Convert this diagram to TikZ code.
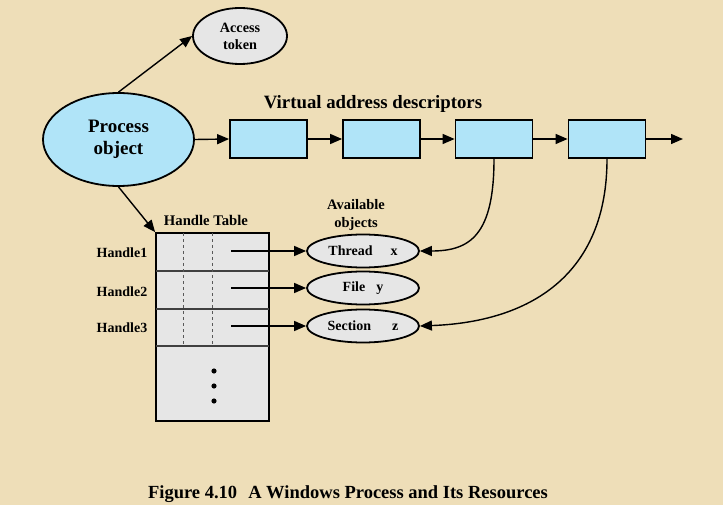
\documentclass[tikz,border=0pt]{standalone}
\usepackage{fontspec}
\setmainfont{Liberation Serif}
\usetikzlibrary{shapes.geometric,arrows.meta}
\definecolor{parch}{RGB}{238,222,184}
\definecolor{lblue}{RGB}{176,228,248}
\definecolor{lgray}{RGB}{230,230,230}
\tikzset{
  arr/.style={draw=black,line width=1.4pt,-{Triangle[length=12pt,width=10pt]}},
  vad/.style={draw=black,line width=1.8pt,fill=lblue,minimum width=77pt,minimum height=38pt,inner sep=0pt},
  obj/.style={ellipse,draw=black,line width=1.8pt,fill=lgray,minimum width=112pt,minimum height=33pt,inner sep=0pt,font=\fontsize{14}{16}\selectfont\bfseries},
  lbl/.style={font=\fontsize{14}{18}\selectfont\bfseries,inner sep=0pt,align=center}
}
\begin{document}
\begin{tikzpicture}[x=1pt,y=-1pt]
\fill[parch] (0,0) rectangle (723,505);
\useasboundingbox (0,0) rectangle (723,505);
% top ellipses
\node[ellipse,draw,line width=1.8pt,fill=lgray,minimum width=94pt,minimum height=56pt,inner sep=0pt,align=center,font=\fontsize{14.2}{17}\selectfont\bfseries] (tok) at (240,36) {Access\\token};
\node[ellipse,draw,line width=1.8pt,fill=lblue,minimum width=151pt,minimum height=93pt,inner sep=0pt,align=center,font=\fontsize{19}{22}\selectfont\bfseries] (proc) at (118.5,139.5) {Process\\object};
% VAD chain
\node[vad] (v1) at (268.5,139) {};
\node[vad] (v2) at (381.5,139) {};
\node[vad] (v3) at (494,139) {};
\node[vad] (v4) at (607,139) {};
\coordinate (vend) at (683,139);
\node[font=\fontsize{18.8}{20}\selectfont\bfseries,inner sep=0pt] (vadl) at (373,104) {Virtual address descriptors};
\draw[arr] (proc.north) -- (tok.west);
\draw[arr] (proc.east) -- (v1.west);
\draw[arr] (v1.east) -- (v2.west);
\draw[arr] (v2.east) -- (v3.west);
\draw[arr] (v3.east) -- (v4.west);
\draw[arr] (v4.east) -- (vend);
% handle table
\node[draw,line width=1.8pt,fill=lgray,minimum width=113pt,minimum height=188pt,inner sep=0pt] (ht) at (212.5,327) {};
\draw[line width=1.2pt,draw=black!75] (156,271) -- (269,271) (156,309) -- (269,309) (156,346) -- (269,346);
\draw[dashed,line width=1pt,draw=black!65] (183,233) -- (183,346) (212,233) -- (212,346);
\foreach \yy in {371,386,401} \fill (214,\yy) circle (2.6pt);
\node[font=\fontsize{14.7}{18}\selectfont\bfseries,inner sep=0pt] (htl) at (206,220) {Handle Table};
\node[lbl,font=\fontsize{14.5}{18}\selectfont\bfseries] (avl) at (356,215) {Available\\objects};
\node[lbl] (h1) at (122,253) {Handle1};
\node[lbl] (h2) at (122,292) {Handle2};
\node[lbl] (h3) at (122,328) {Handle3};
\draw[arr] (proc.south) -- (ht.north west);
% objects
\node[obj] (th) at (363,251) {Thread\hspace{18pt}x};
\node[obj] (fi) at (363,288) {File\hspace{11pt}y};
\node[obj] (se) at (363,326) {Section\hspace{21pt}z};
\coordinate (p1) at (231,251);
\coordinate (p2) at (231,288);
\coordinate (p3) at (231,326);
\draw[arr] (p1) -- (th.west);
\draw[arr] (p2) -- (fi.west);
\draw[arr] (p3) -- (se.west);
\draw[arr] (v3.south) .. controls (494,235) and (470,251) .. (th.east);
\draw[arr] (v4.south) .. controls (607,275) and (530,322) .. (se.east);
% caption
\node[font=\fontsize{18.5}{20}\selectfont\bfseries,inner sep=0pt] (cap) at (348,494) {Figure 4.10\hspace{0.6em}A Windows Process and Its Resources};
\end{tikzpicture}
\end{document}
